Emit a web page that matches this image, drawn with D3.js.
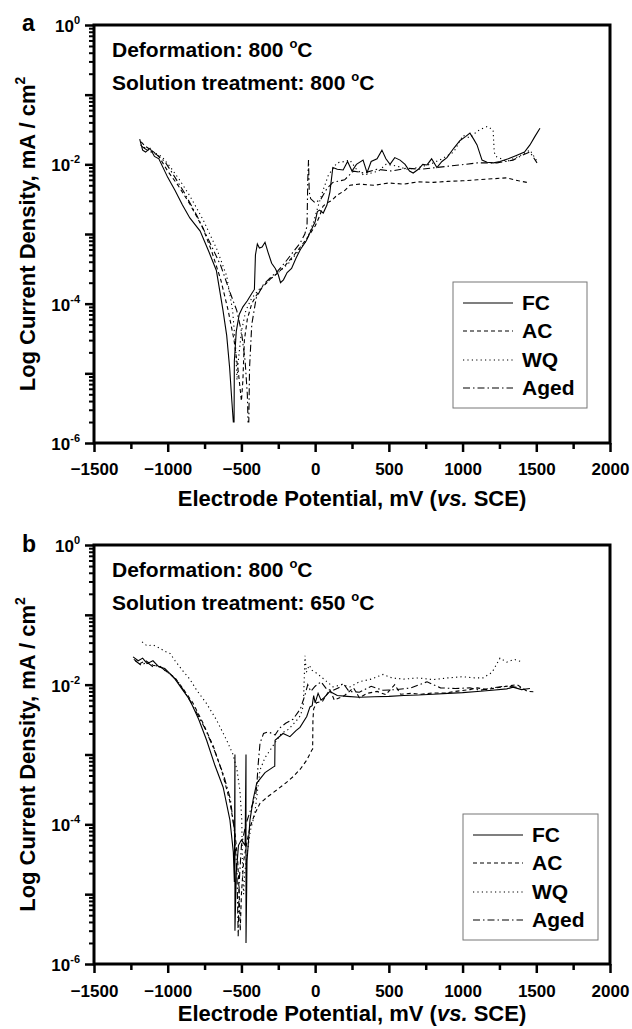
<!DOCTYPE html>
<html>
<head>
<meta charset="utf-8">
<script src="https://cdn.jsdelivr.net/npm/d3@7"></script>
<style>
  body{margin:0;background:#fff;}
  svg{display:block;font-family:"Liberation Sans",Arial,sans-serif;font-weight:bold;}
</style>
</head>
<body>
<svg id="chart" width="632" height="1029"></svg>
<script>
// ---- data (mV vs SCE, mA/cm2) ----
const seriesNames=["FC","AC","WQ","Aged"];
const xTicks=[-1500,-1000,-500,0,500,1000,1500,2000];
const yLabelExps=[0,-2,-4,-6];

const aFC=[[-1190,2.3e-2],[-1170,1.6e-2],[-1150,1.5e-2],[-1120,1.7e-2],[-1090,1.3e-2],[-1060,1.2e-2],[-1000,6.5e-3],[-950,4.2e-3],[-900,2.6e-3],[-850,1.7e-3],[-780,1.1e-3],[-720,5.5e-4],[-670,3.0e-4],[-625,8e-5],[-600,3.5e-5],[-580,1.2e-5],[-565,4e-6],[-555,2e-6],[-550,2e-6],[-548,1.5e-5],[-535,4e-5],[-515,7e-5],[-490,9e-5],[-460,1.1e-4],[-430,1.4e-4],[-412,1.6e-4],[-405,5e-4],[-392,7.2e-4],[-378,6.3e-4],[-360,6.5e-4],[-340,7.6e-4],[-320,5.5e-4],[-295,3.8e-4],[-270,3.2e-4],[-250,2.6e-4],[-235,2.0e-4],[-215,2.2e-4],[-190,2.8e-4],[-160,3.2e-4],[-130,4.5e-4],[-100,6e-4],[-60,8e-4],[-30,1.1e-3],[0,1.5e-3],[15,2.1e-3],[30,2.2e-3],[55,2.0e-3],[80,2.6e-3],[100,4e-3],[120,9e-3],[150,8.5e-3],[190,8.3e-3],[220,1.1e-2],[250,8e-3],[280,1.0e-2],[325,1.15e-2],[352,7.6e-3],[380,1.1e-2],[420,1.2e-2],[453,1.6e-2],[480,1.2e-2],[508,1.0e-2],[540,1.25e-2],[576,1.15e-2],[610,1.0e-2],[640,8e-3],[665,7.5e-3],[700,8.5e-3],[730,1.0e-2],[759,9.8e-3],[790,1.2e-2],[826,9e-3],[860,1.1e-2],[894,1.25e-2],[940,1.7e-2],[983,2.2e-2],[1020,2.5e-2],[1050,2.8e-2],[1075,2.3e-2],[1098,1.9e-2],[1132,1.15e-2],[1166,1.07e-2],[1210,1.05e-2],[1254,1.1e-2],[1310,1.2e-2],[1369,1.35e-2],[1420,1.5e-2],[1457,1.9e-2],[1490,2.5e-2],[1525,3.3e-2]];
const aAC=[[-1180,2.1e-2],[-1150,1.8e-2],[-1110,1.6e-2],[-1060,1.3e-2],[-1000,8e-3],[-930,5e-3],[-850,2.7e-3],[-760,1.2e-3],[-700,5.5e-4],[-640,2.2e-4],[-590,8e-5],[-550,3e-5],[-520,1e-5],[-500,4e-6],[-490,8e-6],[-480,3e-5],[-460,6e-5],[-430,1.0e-4],[-400,1.3e-4],[-360,1.7e-4],[-300,2.3e-4],[-250,2.8e-4],[-200,3.6e-4],[-150,4.8e-4],[-100,6.5e-4],[-50,9e-4],[0,1.3e-3],[30,1.8e-3],[53,2.5e-3],[80,2.8e-3],[110,3.0e-3],[148,3.6e-3],[200,4.2e-3],[236,5.0e-3],[300,5.2e-3],[400,5.0e-3],[500,5.4e-3],[600,5.2e-3],[700,5.6e-3],[800,5.5e-3],[900,5.7e-3],[1000,5.8e-3],[1100,6e-3],[1200,6.2e-3],[1300,6.4e-3],[1380,5.8e-3],[1437,5.5e-3]];
const aWQ=[[-1185,1.9e-2],[-1150,1.7e-2],[-1100,1.5e-2],[-1040,1.3e-2],[-980,9e-3],[-920,6e-3],[-849,3.5e-3],[-760,1.6e-3],[-666,6e-4],[-600,2.5e-4],[-560,8e-5],[-540,2.5e-5],[-530,8e-6],[-520,1.6e-5],[-500,4e-5],[-470,8e-5],[-430,1.2e-4],[-380,1.6e-4],[-320,2.1e-4],[-250,2.8e-4],[-180,3.8e-4],[-120,5.5e-4],[-60,8e-4],[-10,1.5e-3],[20,2.5e-3],[53,4.2e-3],[90,7e-3],[148,1.05e-2],[200,1.1e-2],[236,1.15e-2],[280,8.5e-3],[330,7e-3],[380,7.5e-3],[430,8e-3],[480,1.0e-2],[550,9.5e-3],[620,8.5e-3],[700,9e-3],[780,1.0e-2],[860,1.2e-2],[940,1.5e-2],[1003,2.6e-2],[1050,2.4e-2],[1100,3.0e-2],[1139,3.3e-2],[1170,3.5e-2],[1207,3.1e-2],[1215,1.5e-2],[1225,1.3e-2],[1300,1.1e-2],[1380,1.3e-2],[1457,1.6e-2],[1512,1.05e-2]];
const aAged=[[-1175,1.8e-2],[-1140,1.6e-2],[-1080,1.4e-2],[-1020,1.1e-2],[-960,7e-3],[-890,4e-3],[-800,1.8e-3],[-720,8e-4],[-640,3.5e-4],[-580,1.5e-4],[-532,8e-5],[-500,4e-5],[-475,1.5e-5],[-460,5e-6],[-455,2e-6],[-450,2e-6],[-445,1.2e-5],[-430,5e-5],[-400,1.2e-4],[-350,1.9e-4],[-300,2.4e-4],[-250,3e-4],[-200,4e-4],[-150,5.5e-4],[-100,7.5e-4],[-70,1.0e-3],[-55,1.3e-3],[-50,6e-3],[-45,1.15e-2],[-40,4e-3],[-30,3.2e-3],[0,2.8e-3],[40,3.2e-3],[80,4.5e-3],[120,5.5e-3],[200,6e-3],[260,8e-3],[330,7.5e-3],[420,8.5e-3],[520,8e-3],[620,8.8e-3],[720,8.5e-3],[820,9e-3],[920,9.5e-3],[1020,1.0e-2],[1100,1.05e-2],[1166,1.05e-2],[1233,1.05e-2],[1342,1.15e-2],[1420,1.4e-2],[1457,1.5e-2],[1505,1.05e-2]];

const bFC=[[-1235,2.5e-2],[-1200,2.2e-2],[-1170,2.4e-2],[-1140,2.0e-2],[-1100,2.2e-2],[-1060,1.8e-2],[-1020,1.7e-2],[-980,1.4e-2],[-950,1.2e-2],[-900,8.5e-3],[-849,6e-3],[-790,3.2e-3],[-736,1.6e-3],[-680,7e-4],[-624,3.4e-4],[-578,1.15e-4],[-555,4e-5],[-548,1.5e-5],[-544,1e-3],[-544,3e-6],[-535,2e-5],[-520,5e-5],[-500,6e-5],[-475,5e-5],[-469,1e-3],[-469,2e-6],[-462,3e-5],[-442,1.15e-4],[-420,2.3e-4],[-396,3.9e-4],[-340,5.5e-4],[-285,6.6e-4],[-274,6.8e-4],[-272,1.6e-3],[-218,2.0e-3],[-171,1.8e-3],[-130,2.2e-3],[-103,2.45e-3],[-57,3.5e-3],[-35,4.8e-3],[-20,5e-3],[-10,7e-3],[0,5.5e-3],[20,7.5e-3],[40,6e-3],[60,6.5e-3],[100,8e-3],[150,7e-3],[216,6.8e-3],[300,6.6e-3],[400,6.7e-3],[500,6.8e-3],[600,7.0e-3],[700,7.1e-3],[800,7.3e-3],[900,7.5e-3],[1000,7.7e-3],[1100,8e-3],[1200,8.3e-3],[1300,8.7e-3],[1342,9.2e-3],[1400,8.5e-3],[1457,8.8e-3]];
const bAC=[[-1230,2.3e-2],[-1190,2.0e-2],[-1150,2.2e-2],[-1100,1.9e-2],[-1050,1.8e-2],[-1000,1.5e-2],[-950,1.25e-2],[-900,9e-3],[-830,5.5e-3],[-760,2.8e-3],[-690,1.3e-3],[-630,5.5e-4],[-580,2.2e-4],[-545,8e-5],[-525,3e-5],[-515,1e-5],[-508,3e-6],[-500,1e-5],[-485,3e-5],[-460,6e-5],[-442,9e-5],[-410,1.4e-4],[-374,2e-4],[-320,2.5e-4],[-261,3.1e-4],[-200,3.9e-4],[-150,4.8e-4],[-100,6.2e-4],[-57,8.3e-4],[-23,1.15e-3],[-17,1.2e-3],[-15,3.1e-3],[-10,4.5e-3],[10,5.5e-3],[50,5.8e-3],[100,8.5e-3],[130,6e-3],[200,7e-3],[260,9e-3],[300,6.5e-3],[352,7.5e-3],[420,8e-3],[480,7.2e-3],[540,1.0e-2],[580,7.3e-3],[650,7.5e-3],[720,7.3e-3],[800,7.6e-3],[880,7.6e-3],[950,8e-3],[1050,8.5e-3],[1100,9e-3],[1166,8.5e-3],[1230,9e-3],[1300,9.5e-3],[1370,1.0e-2],[1440,8e-3],[1480,7.9e-3]];
const bWQ=[[-1174,4.1e-2],[-1140,3.6e-2],[-1100,3.7e-2],[-1050,3.3e-2],[-1020,3.0e-2],[-984,2.8e-2],[-950,2.2e-2],[-900,1.6e-2],[-850,1.2e-2],[-803,8.3e-3],[-740,5.5e-3],[-668,3.1e-3],[-600,1.6e-3],[-557,1.0e-3],[-530,6e-4],[-510,3e-4],[-498,1.2e-4],[-492,2e-5],[-485,1e-5],[-478,2e-5],[-460,4e-5],[-440,8e-5],[-410,1.4e-4],[-374,6e-4],[-340,9e-4],[-300,1.2e-3],[-270,1.5e-3],[-230,2e-3],[-180,2.3e-3],[-130,3e-3],[-100,3.6e-3],[-80,5e-3],[-69,2.6e-2],[-60,1.5e-2],[-40,1.9e-2],[-20,1.6e-2],[12,1.45e-2],[60,1.2e-2],[121,9.3e-3],[180,1.0e-2],[236,9.3e-3],[300,1.1e-2],[380,1.2e-2],[460,1.4e-2],[520,1.25e-2],[600,1.2e-2],[700,1.25e-2],[800,1.18e-2],[900,1.25e-2],[1000,1.3e-2],[1080,1.25e-2],[1139,1.25e-2],[1200,1.5e-2],[1254,2.4e-2],[1300,2.1e-2],[1350,2.3e-2],[1410,2.1e-2]];
const bAged=[[-1220,2.2e-2],[-1180,1.9e-2],[-1140,2.1e-2],[-1100,1.8e-2],[-1060,1.9e-2],[-1020,1.6e-2],[-980,1.4e-2],[-930,1.1e-2],[-870,7e-3],[-810,4.2e-3],[-740,2.2e-3],[-680,1.1e-3],[-620,5e-4],[-575,2.3e-4],[-548,8e-5],[-530,2e-5],[-522,2.5e-6],[-515,1.5e-5],[-500,5e-5],[-470,1.0e-4],[-430,1.8e-4],[-405,2.5e-4],[-396,3.5e-4],[-388,6.6e-4],[-374,1.45e-3],[-350,2.0e-3],[-320,2.1e-3],[-290,2.0e-3],[-272,1.9e-3],[-240,2.4e-3],[-200,2.8e-3],[-150,3.2e-3],[-100,4.5e-3],[-70,7e-3],[-50,1.0e-2],[-30,8e-3],[0,9.5e-3],[40,1.1e-2],[80,8.5e-3],[121,8.3e-3],[160,9e-3],[189,1.05e-2],[230,8e-3],[300,7.8e-3],[380,9.5e-3],[460,8.3e-3],[550,8.5e-3],[650,9e-3],[759,1.1e-2],[850,9e-3],[950,8.8e-3],[1050,9e-3],[1118,8.3e-3],[1200,9e-3],[1280,9.5e-3],[1342,9.3e-3],[1400,9e-3]];

const annotA=["Deformation: 800","Solution treatment: 800"];
const annotB=["Deformation: 800","Solution treatment: 650"];

// ---- layout ----
const svg=d3.select("#chart");
const dashes={FC:null,AC:"4,3",WQ:"1.2,3.2",Aged:"7,3,1.5,3"};
const left=94,right=610;

const panels=[
  {tag:"a",top:25,bottom:443,series:[aFC,aAC,aWQ,aAged],annot:annotA,
   leg:{x:453,y:282,w:134,h:126,rows:[303,331,360,388]},tickY:475,titleY:506,tagY:31},
  {tag:"b",top:545,bottom:964,series:[bFC,bAC,bWQ,bAged],annot:annotB,
   leg:{x:463,y:814,w:135,h:126,rows:[835,863,892,920]},tickY:997,titleY:1021,tagY:552}
];

panels.forEach(p=>{
  const g=svg.append("g");
  const x=d3.scaleLinear().domain([-1500,2000]).range([left,right]);
  const y=d3.scaleLog().domain([1e-6,1]).range([p.bottom,p.top]);

  // minor x ticks
  const minorX=d3.range(-1250,2000,500);
  g.append("g").attr("transform",`translate(0,${p.bottom})`)
    .call(d3.axisBottom(x).tickValues(minorX).tickSize(6).tickSizeOuter(0).tickFormat(""))
    .call(s=>s.select(".domain").remove())
    .call(s=>s.selectAll("line").attr("stroke-width",2.5));
  g.append("g").attr("transform",`translate(0,${p.bottom})`)
    .call(d3.axisBottom(x).tickValues(xTicks).tickSize(9).tickSizeOuter(0).tickFormat(d3.format("d")))
    .call(s=>s.select(".domain").remove())
    .call(s=>s.selectAll("line").attr("stroke-width",2.5))
    .call(s=>s.selectAll("text").attr("y",null).attr("dy",null)
      .attr("transform",`translate(0,${p.tickY-p.bottom})`)
      .style("font-size","17px").style("font-weight","bold").style("font-family","inherit"));

  // y ticks: decades and minors
  const decades=d3.range(-6,1).map(e=>Math.pow(10,e));
  const minors=[];
  for(let e=-6;e<0;e++) for(let k=2;k<10;k++) minors.push(k*Math.pow(10,e));
  g.append("g").attr("transform",`translate(${left},0)`)
    .call(d3.axisLeft(y).tickValues(minors).tickSize(5).tickFormat(""))
    .call(s=>s.select(".domain").remove())
    .call(s=>s.selectAll("line").attr("stroke-width",2));
  g.append("g").attr("transform",`translate(${left},0)`)
    .call(d3.axisLeft(y).tickValues(decades).tickSize(9).tickFormat(""))
    .call(s=>s.select(".domain").remove())
    .call(s=>s.selectAll("line").attr("stroke-width",2.5));

  yLabelExps.forEach(e=>{
    const t=g.append("text").attr("x",80).attr("y",y(Math.pow(10,e))+7)
      .attr("text-anchor","end").style("font-size","17px");
    t.append("tspan").text("10");
    t.append("tspan").attr("dy",-8).style("font-size","11px").text(e===0?"0":String(e));
  });

  // frame
  g.append("rect").attr("x",left).attr("y",p.top)
    .attr("width",right-left).attr("height",p.bottom-p.top)
    .attr("fill","none").attr("stroke","#000").attr("stroke-width",3);

  // curves
  const line=d3.line().x(d=>x(d[0])).y(d=>y(d[1]));
  p.series.forEach((data,i)=>{
    g.append("path").datum(data)
      .attr("fill","none").attr("stroke","#000").attr("stroke-width",1.1)
      .attr("stroke-dasharray",dashes[seriesNames[i]])
      .attr("d",line);
  });

  // annotation
  p.annot.forEach((s,i)=>{
    const t=g.append("text").attr("x",112).attr("y",p.top+32+i*33).style("font-size","21px");
    t.append("tspan").text(s+" ");
    t.append("tspan").attr("dy",-9).style("font-size","13px").text("o");
    t.append("tspan").attr("dy",9).text("C");
  });

  // legend
  const L=p.leg;
  g.append("rect").attr("x",L.x).attr("y",L.y).attr("width",L.w).attr("height",L.h)
    .attr("fill","#fff").attr("stroke","#777").attr("stroke-width",1);
  seriesNames.forEach((n,i)=>{
    g.append("line").attr("x1",L.x+10).attr("x2",L.x+60)
      .attr("y1",L.rows[i]).attr("y2",L.rows[i])
      .attr("stroke","#000").attr("stroke-width",1.1)
      .attr("stroke-dasharray",dashes[n]);
    g.append("text").attr("x",L.x+69).attr("y",L.rows[i]+7)
      .style("font-size","21px").text(n);
  });

  // panel tag
  g.append("text").attr("x",22).attr("y",p.tagY).style("font-size","23px").text(p.tag);

  // axis titles
  const xt=g.append("text").attr("x",(left+right)/2).attr("y",p.titleY)
    .attr("text-anchor","middle").style("font-size","22px");
  xt.append("tspan").text("Electrode Potential, mV (");
  xt.append("tspan").style("font-style","italic").text("vs.");
  xt.append("tspan").text(" SCE)");

  const cy=(p.top+p.bottom)/2;
  const yt=g.append("text").attr("transform",`translate(35,${cy}) rotate(-90)`)
    .attr("text-anchor","middle").style("font-size","22px");
  yt.append("tspan").text("Log Current Density, mA / cm");
  yt.append("tspan").attr("dy",-10).style("font-size","14px").text("2");
});
</script>
</body>
</html>
